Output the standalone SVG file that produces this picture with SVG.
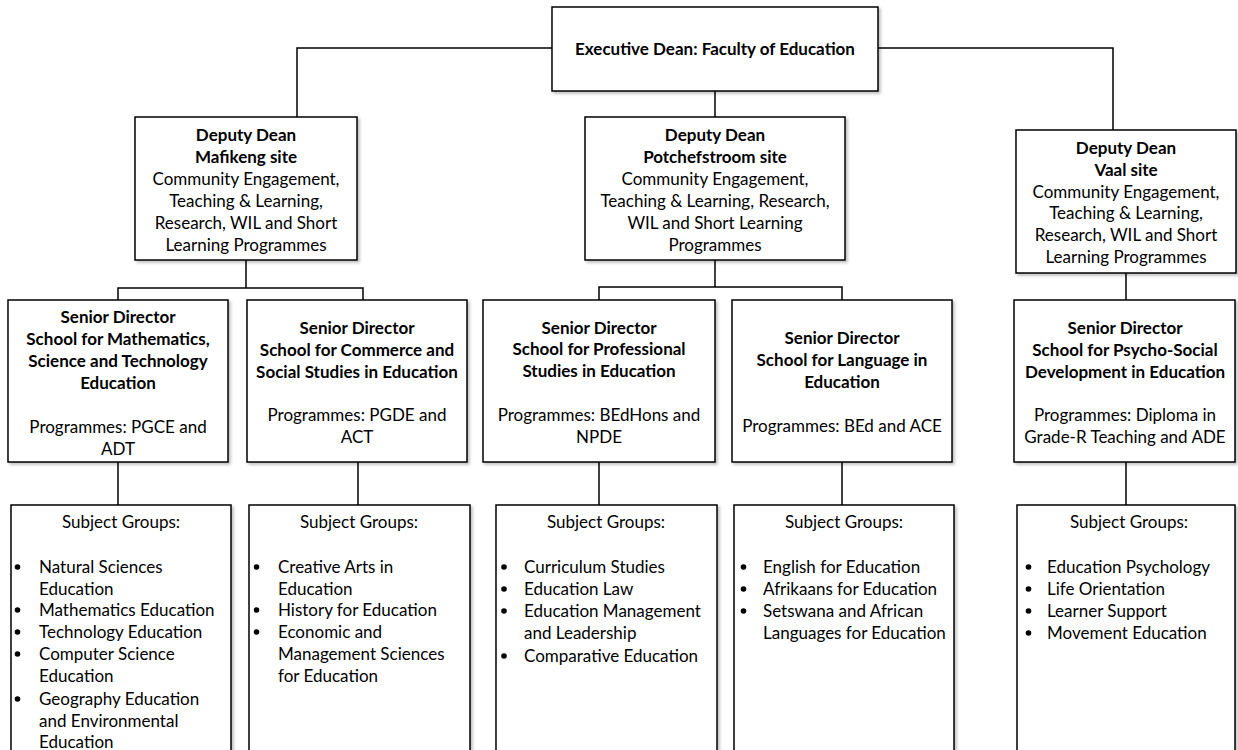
<svg xmlns="http://www.w3.org/2000/svg" width="1238" height="750" viewBox="0 0 1238 750">
<defs>
<filter id="sh" x="-5%" y="-5%" width="115%" height="115%">
<feDropShadow dx="2" dy="2" stdDeviation="1.5" flood-color="#000" flood-opacity="0.25"/>
</filter>
</defs>
<style>
.box{fill:#fff;stroke:#000;stroke-width:1.5;filter:url(#sh)}
.ln{fill:none;stroke:#000;stroke-width:1.5}
text{font-family:Lato,"Liberation Sans",sans-serif;font-size:17px;fill:#000}
.c{text-anchor:middle}
.b{font-weight:bold}
.dot{fill:#000}
</style>
<rect width="1238" height="750" fill="#fff"/>
<g id="connectors">
<polyline class="ln" points="552,48 297,48 297,117"/>
<polyline class="ln" points="878,48 1113,48 1113,130"/>
<line class="ln" x1="715" y1="91" x2="715" y2="117"/>
<line class="ln" x1="246" y1="260" x2="246" y2="288"/>
<polyline class="ln" points="118,300 118,288 363,288 363,300"/>
<line class="ln" x1="715" y1="260" x2="715" y2="287"/>
<polyline class="ln" points="599,300 599,287 842,287 842,300"/>
<line class="ln" x1="1126" y1="273" x2="1126" y2="300"/>
<line class="ln" x1="118" y1="462" x2="118" y2="505"/>
<line class="ln" x1="358" y1="462" x2="358" y2="505"/>
<line class="ln" x1="599" y1="462" x2="599" y2="505"/>
<line class="ln" x1="842" y1="462" x2="842" y2="505"/>
<line class="ln" x1="1126" y1="462" x2="1126" y2="505"/>
</g>
<g id="exec">
<rect class="box" x="552" y="7" width="326" height="84"/>
<text class="c b" x="715" y="55">Executive Dean: Faculty of Education</text>
</g>
<g id="dd-mafikeng">
<rect class="box" x="135" y="117" width="222" height="143"/>
<text class="c b" x="246" y="141">Deputy Dean</text>
<text class="c b" x="246" y="163">Mafikeng site</text>
<text class="c" x="246" y="185">Community Engagement,</text>
<text class="c" x="246" y="207">Teaching &amp; Learning,</text>
<text class="c" x="246" y="229">Research, WIL and Short</text>
<text class="c" x="246" y="251">Learning Programmes</text>
</g>
<g id="dd-potchefstroom">
<rect class="box" x="585" y="117" width="260" height="143"/>
<text class="c b" x="715" y="141">Deputy Dean</text>
<text class="c b" x="715" y="163">Potchefstroom site</text>
<text class="c" x="715" y="185">Community Engagement,</text>
<text class="c" x="715" y="207">Teaching &amp; Learning, Research,</text>
<text class="c" x="715" y="229">WIL and Short Learning</text>
<text class="c" x="715" y="251">Programmes</text>
</g>
<g id="dd-vaal">
<rect class="box" x="1016" y="130" width="220" height="143"/>
<text class="c b" x="1126" y="154">Deputy Dean</text>
<text class="c b" x="1126" y="176">Vaal site</text>
<text class="c" x="1126" y="198">Community Engagement,</text>
<text class="c" x="1126" y="219">Teaching &amp; Learning,</text>
<text class="c" x="1126" y="241">Research, WIL and Short</text>
<text class="c" x="1126" y="263">Learning Programmes</text>
</g>
<g id="sd-mst">
<rect class="box" x="8" y="300" width="220" height="162"/>
<text class="c b" x="118" y="323">Senior Director</text>
<text class="c b" x="118" y="345">School for Mathematics,</text>
<text class="c b" x="118" y="367">Science and Technology</text>
<text class="c b" x="118" y="389">Education</text>
<text class="c" x="118" y="433">Programmes: PGCE and</text>
<text class="c" x="118" y="455">ADT</text>
</g>
<g id="sd-commerce">
<rect class="box" x="247" y="300" width="220" height="162"/>
<text class="c b" x="357" y="334">Senior Director</text>
<text class="c b" x="357" y="356">School for Commerce and</text>
<text class="c b" x="357" y="378">Social Studies in Education</text>
<text class="c" x="357" y="421">Programmes: PGDE and</text>
<text class="c" x="357" y="443">ACT</text>
</g>
<g id="sd-professional">
<rect class="box" x="483" y="300" width="232" height="162"/>
<text class="c b" x="599" y="334">Senior Director</text>
<text class="c b" x="599" y="355">School for Professional</text>
<text class="c b" x="599" y="377">Studies in Education</text>
<text class="c" x="599" y="421">Programmes: BEdHons and</text>
<text class="c" x="599" y="443">NPDE</text>
</g>
<g id="sd-language">
<rect class="box" x="732" y="300" width="220" height="162"/>
<text class="c b" x="842" y="344">Senior Director</text>
<text class="c b" x="842" y="366">School for Language in</text>
<text class="c b" x="842" y="388">Education</text>
<text class="c" x="842" y="432">Programmes: BEd and ACE</text>
</g>
<g id="sd-psycho">
<rect class="box" x="1014" y="300" width="221" height="162"/>
<text class="c b" x="1125" y="334">Senior Director</text>
<text class="c b" x="1125" y="356">School for Psycho-Social</text>
<text class="c b" x="1125" y="378">Development in Education</text>
<text class="c" x="1125" y="421">Programmes: Diploma in</text>
<text class="c" x="1125" y="443">Grade-R Teaching and ADE</text>
</g>
<g id="sg-mst">
<rect class="box" x="11" y="505" width="220" height="260"/>
<text class="c" x="121" y="528">Subject Groups:</text>
<circle class="dot" cx="17.5" cy="567" r="2.8"/>
<circle class="dot" cx="17.5" cy="610" r="2.8"/>
<circle class="dot" cx="17.5" cy="632" r="2.8"/>
<circle class="dot" cx="17.5" cy="654" r="2.8"/>
<circle class="dot" cx="17.5" cy="699" r="2.8"/>
<text x="39" y="573">Natural Sciences</text>
<text x="39" y="595">Education</text>
<text x="39" y="616">Mathematics Education</text>
<text x="39" y="638">Technology Education</text>
<text x="39" y="660">Computer Science</text>
<text x="39" y="682">Education</text>
<text x="39" y="705">Geography Education</text>
<text x="39" y="727">and Environmental</text>
<text x="39" y="748">Education</text>
</g>
<g id="sg-commerce">
<rect class="box" x="249" y="505" width="221" height="260"/>
<text class="c" x="359" y="528">Subject Groups:</text>
<circle class="dot" cx="256.5" cy="567" r="2.8"/>
<circle class="dot" cx="256.5" cy="610" r="2.8"/>
<circle class="dot" cx="256.5" cy="632" r="2.8"/>
<text x="278" y="573">Creative Arts in</text>
<text x="278" y="595">Education</text>
<text x="278" y="616">History for Education</text>
<text x="278" y="638">Economic and</text>
<text x="278" y="660">Management Sciences</text>
<text x="278" y="682">for Education</text>
</g>
<g id="sg-professional">
<rect class="box" x="496" y="505" width="221" height="260"/>
<text class="c" x="606" y="528">Subject Groups:</text>
<circle class="dot" cx="504" cy="567" r="2.8"/>
<circle class="dot" cx="504" cy="589" r="2.8"/>
<circle class="dot" cx="504" cy="611" r="2.8"/>
<circle class="dot" cx="504" cy="656" r="2.8"/>
<text x="524" y="573">Curriculum Studies</text>
<text x="524" y="595">Education Law</text>
<text x="524" y="617">Education Management</text>
<text x="524" y="639">and Leadership</text>
<text x="524" y="662">Comparative Education</text>
</g>
<g id="sg-language">
<rect class="box" x="734" y="505" width="220" height="260"/>
<text class="c" x="844" y="528">Subject Groups:</text>
<circle class="dot" cx="743.5" cy="567" r="2.8"/>
<circle class="dot" cx="743.5" cy="589" r="2.8"/>
<circle class="dot" cx="743.5" cy="611" r="2.8"/>
<text x="763" y="573">English for Education</text>
<text x="763" y="595">Afrikaans for Education</text>
<text x="763" y="617">Setswana and African</text>
<text x="763" y="639">Languages for Education</text>
</g>
<g id="sg-psycho">
<rect class="box" x="1017" y="505" width="218" height="260"/>
<text class="c" x="1129" y="528">Subject Groups:</text>
<circle class="dot" cx="1028.5" cy="567" r="2.8"/>
<circle class="dot" cx="1028.5" cy="589" r="2.8"/>
<circle class="dot" cx="1028.5" cy="611" r="2.8"/>
<circle class="dot" cx="1028.5" cy="633" r="2.8"/>
<text x="1047" y="573">Education Psychology</text>
<text x="1047" y="595">Life Orientation</text>
<text x="1047" y="617">Learner Support</text>
<text x="1047" y="639">Movement Education</text>
</g>
</svg>
